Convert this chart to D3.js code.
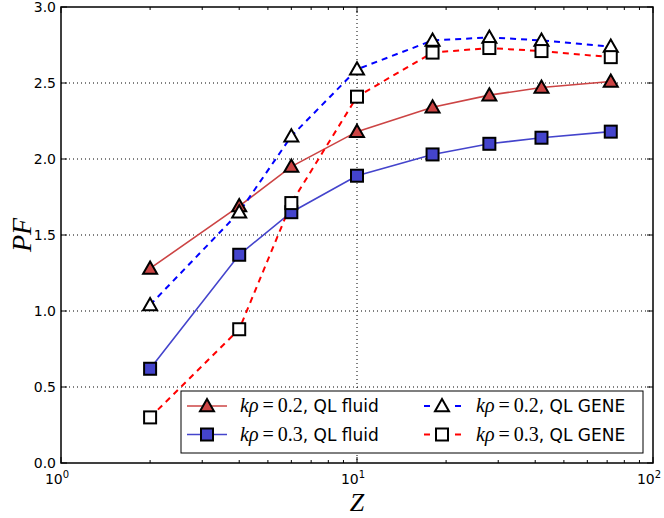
<!DOCTYPE html>
<html>
<head>
<meta charset="utf-8">
<script src="https://cdn.jsdelivr.net/npm/d3@7"></script>
<style>
  body { margin: 0; background: #fff; }
</style>
</head>
<body>
<div id="chart"></div>
<script>
// data
const zValues = [2, 4, 6, 10, 18, 28, 42, 72];
const fluid02 = [1.28, 1.69, 1.95, 2.18, 2.34, 2.42, 2.47, 2.51];
const fluid03 = [0.62, 1.37, 1.65, 1.89, 2.03, 2.10, 2.14, 2.18];
const gene02 = [1.04, 1.65, 2.15, 2.59, 2.78, 2.80, 2.78, 2.74];
const gene03 = [0.30, 0.88, 1.71, 2.41, 2.70, 2.73, 2.71, 2.67];
const yTicks = [0.0, 0.5, 1.0, 1.5, 2.0, 2.5, 3.0];
const xDecades = [1, 10, 100];

const W = 664, H = 518;
const margin = { left: 61, right: 11, top: 7, bottom: 55 };
const plotW = W - margin.left - margin.right;
const plotH = H - margin.top - margin.bottom;
const SERIF = '"Liberation Serif", "DejaVu Serif", serif';

const svg = d3.select('#chart').append('svg')
    .attr('width', W).attr('height', H)
    .attr('font-family', '"DejaVu Sans", sans-serif');

const x = d3.scaleLog().domain([1, 100]).range([margin.left, margin.left + plotW]);
const y = d3.scaleLinear().domain([0, 3]).range([margin.top + plotH, margin.top]);

// grid
const grid = svg.append('g');
yTicks.slice(1, -1).forEach(v => {
    grid.append('line')
        .attr('x1', margin.left).attr('x2', margin.left + plotW)
        .attr('y1', y(v)).attr('y2', y(v))
        .attr('stroke', '#000').attr('stroke-width', 1)
        .attr('stroke-dasharray', '1,3');
});
grid.append('line')
    .attr('x1', x(10)).attr('x2', x(10))
    .attr('y1', margin.top).attr('y2', margin.top + plotH)
    .attr('stroke', '#000').attr('stroke-width', 1)
    .attr('stroke-dasharray', '1,3');

// ticks inside frame
const ticks = svg.append('g').attr('stroke', '#000').attr('stroke-width', 1);
yTicks.forEach(v => {
    ticks.append('line').attr('x1', margin.left).attr('x2', margin.left + 6).attr('y1', y(v)).attr('y2', y(v));
    ticks.append('line').attr('x1', margin.left + plotW).attr('x2', margin.left + plotW - 6).attr('y1', y(v)).attr('y2', y(v));
});
const minor = [];
[1, 10].forEach(d => { for (let i = 2; i <= 9; i++) minor.push(d * i); });
xDecades.forEach(v => {
    ticks.append('line').attr('x1', x(v)).attr('x2', x(v)).attr('y1', margin.top + plotH).attr('y2', margin.top + plotH - 6);
    ticks.append('line').attr('x1', x(v)).attr('x2', x(v)).attr('y1', margin.top).attr('y2', margin.top + 6);
});
minor.forEach(v => {
    ticks.append('line').attr('x1', x(v)).attr('x2', x(v)).attr('y1', margin.top + plotH).attr('y2', margin.top + plotH - 3);
    ticks.append('line').attr('x1', x(v)).attr('x2', x(v)).attr('y1', margin.top).attr('y2', margin.top + 3);
});

// tick labels
yTicks.forEach(v => {
    svg.append('text')
        .attr('x', margin.left - 5).attr('y', y(v) + 5)
        .attr('text-anchor', 'end').attr('font-size', 14)
        .text(v.toFixed(1));
});
xDecades.forEach((v, i) => {
    const t = svg.append('text')
        .attr('x', x(v) - 4).attr('y', margin.top + plotH + 21)
        .attr('text-anchor', 'middle').attr('font-size', 14);
    t.append('tspan').text('10');
    t.append('tspan').attr('font-size', 10).attr('dy', -6).text(i);
});

// series
const series = [
    { vals: fluid02, color: '#cc4444', dash: null, width: 1.6, marker: 'tri', fill: '#cc4444' },
    { vals: fluid03, color: '#4444cc', dash: null, width: 1.6, marker: 'sq', fill: '#4444cc' },
    { vals: gene02, color: '#0000ff', dash: '6,5', width: 2, marker: 'tri', fill: '#fff' },
    { vals: gene03, color: '#ff0000', dash: '6,5', width: 2, marker: 'sq', fill: '#fff' }
];

const line = d3.line().x(d => x(d[0])).y(d => y(d[1]));

function drawMarker(g, kind, cx, cy, fill) {
    if (kind === 'tri') {
        const s = 7;
        g.append('path')
            .attr('d', `M${cx},${cy - s}L${cx + s},${cy + s * 0.75}L${cx - s},${cy + s * 0.75}Z`)
            .attr('fill', fill).attr('stroke', '#000').attr('stroke-width', 2)
            .attr('stroke-linejoin', 'miter');
    } else {
        const s = 6;
        g.append('rect')
            .attr('x', cx - s).attr('y', cy - s).attr('width', 2 * s).attr('height', 2 * s)
            .attr('fill', fill).attr('stroke', '#000').attr('stroke-width', 2);
    }
}

const plot = svg.append('g');
series.forEach(s => {
    const pts = zValues.map((z, i) => [z, s.vals[i]]);
    plot.append('path')
        .attr('d', line(pts))
        .attr('fill', 'none')
        .attr('stroke', s.color)
        .attr('stroke-width', s.width)
        .attr('stroke-dasharray', s.dash);
});
series.forEach(s => {
    zValues.forEach((z, i) => drawMarker(plot, s.marker, x(z), y(s.vals[i]), s.fill));
});

// frame
svg.append('rect')
    .attr('x', margin.left).attr('y', margin.top).attr('width', plotW).attr('height', plotH)
    .attr('fill', 'none').attr('stroke', '#000').attr('stroke-width', 1.5);

// legend
const lg = svg.append('g');
lg.append('rect')
    .attr('x', 181).attr('y', 391).attr('width', 462).attr('height', 62)
    .attr('fill', '#fff').attr('stroke', '#000').attr('stroke-width', 1);

const legendItems = [
    { s: series[0], k: '0.2', label: 'QL fluid', col: 0, row: 0 },
    { s: series[1], k: '0.3', label: 'QL fluid', col: 0, row: 1 },
    { s: series[2], k: '0.2', label: 'QL GENE', col: 1, row: 0 },
    { s: series[3], k: '0.3', label: 'QL GENE', col: 1, row: 1 }
];
legendItems.forEach(it => {
    const cy = 406 + it.row * 28.5;
    if (it.col === 0) {
        lg.append('line')
            .attr('x1', 187).attr('x2', 227).attr('y1', cy).attr('y2', cy)
            .attr('stroke', it.s.color).attr('stroke-width', it.s.width);
        drawMarker(lg, it.s.marker, 207, cy, it.s.fill);
    } else {
        [[424, 430], [455, 461]].forEach(seg => {
            lg.append('line')
                .attr('x1', seg[0]).attr('x2', seg[1]).attr('y1', cy).attr('y2', cy)
                .attr('stroke', it.s.color).attr('stroke-width', it.s.width);
        });
        drawMarker(lg, it.s.marker, 442, cy, it.s.fill);
    }
    const t = lg.append('text')
        .attr('x', it.col === 0 ? 240 : 476).attr('y', cy + 6)
        .attr('font-size', 17);
    t.append('tspan').attr('font-family', SERIF).attr('font-style', 'italic')
        .attr('font-size', 20).text('kρ');
    t.append('tspan').attr('font-family', SERIF)
        .attr('font-size', 20).text('\u2009=\u2009' + it.k);
    t.append('tspan').text(', ' + it.label);
});

// axis titles
svg.append('text')
    .attr('x', x(10)).attr('y', 511)
    .attr('text-anchor', 'middle')
    .attr('font-family', SERIF).attr('font-style', 'italic')
    .attr('font-size', 26).text('Z');
svg.append('text')
    .attr('transform', `translate(31,${margin.top + plotH / 2}) rotate(-90)`)
    .attr('text-anchor', 'middle')
    .attr('font-family', SERIF).attr('font-style', 'italic')
    .attr('font-size', 28).text('PF');
</script>
</body>
</html>
